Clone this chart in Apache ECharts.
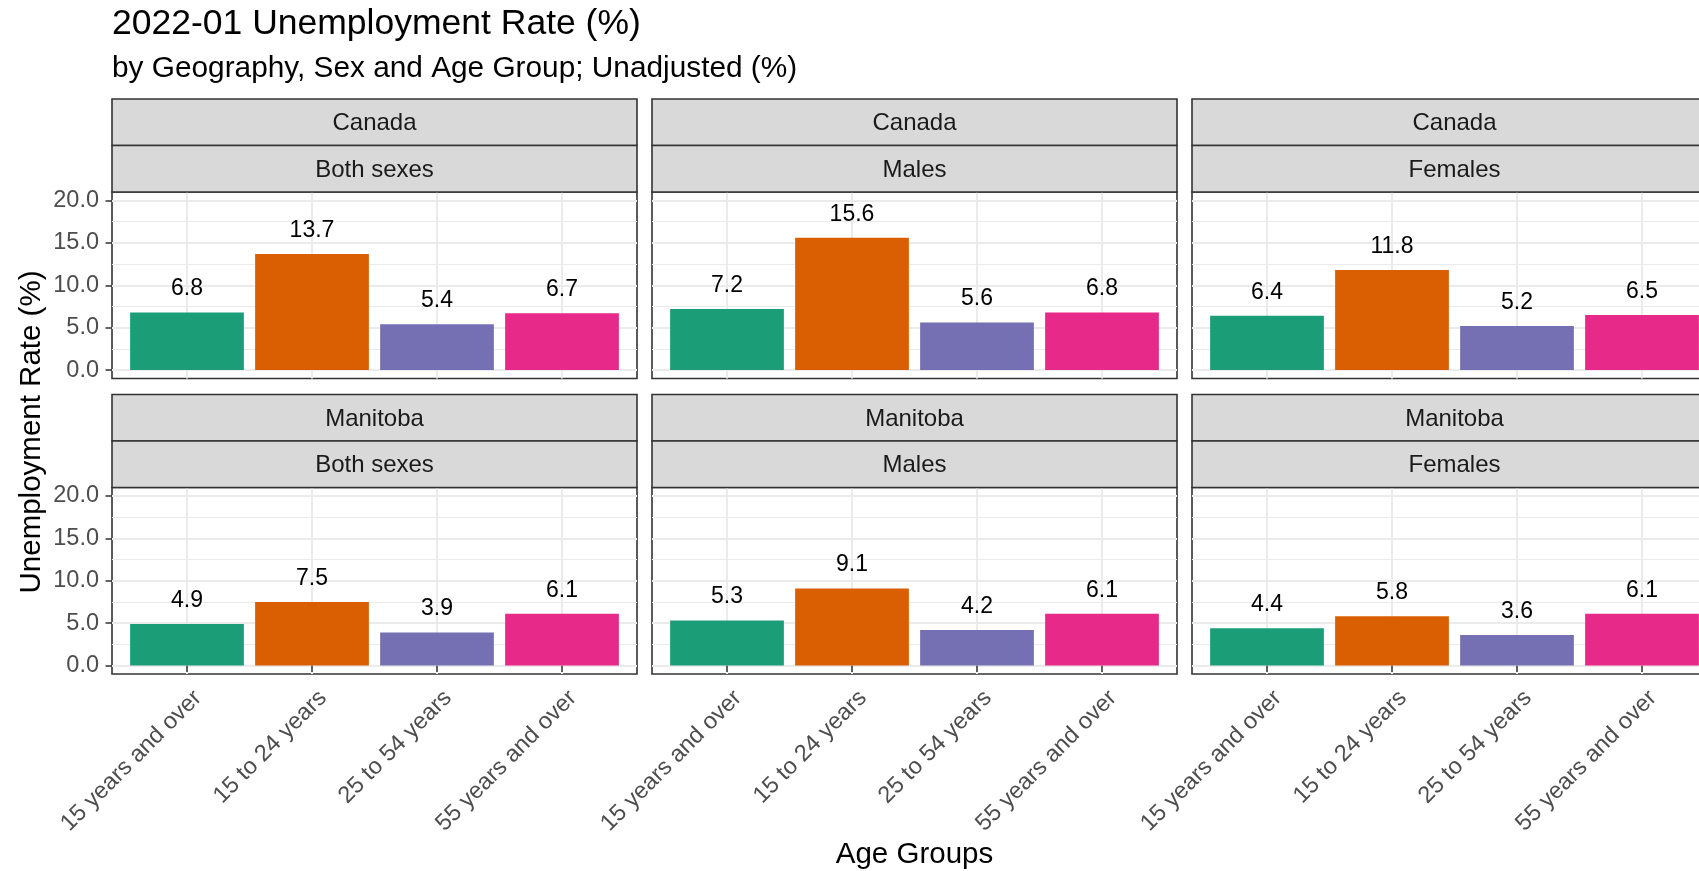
<!DOCTYPE html>
<html>
<head>
<meta charset="utf-8">
<script src="https://cdn.jsdelivr.net/npm/echarts@6/dist/echarts.min.js"></script>
<style>
html,body{margin:0;padding:0;background:#fff;}
#chart{width:1699px;height:871px;}
</style>
</head>
<body>
<div id="chart"></div>
<script>
// ---------------- data ----------------
const ageGroups = ['15 years and over', '15 to 24 years', '25 to 54 years', '55 years and over'];
const geographies = ['Canada', 'Manitoba'];
const sexes = ['Both sexes', 'Males', 'Females'];
const canadaBoth = [6.8, 13.7, 5.4, 6.7];
const canadaMales = [7.2, 15.6, 5.6, 6.8];
const canadaFemales = [6.4, 11.8, 5.2, 6.5];
const manitobaBoth = [4.9, 7.5, 3.9, 6.1];
const manitobaMales = [5.3, 9.1, 4.2, 6.1];
const manitobaFemales = [4.4, 5.8, 3.6, 6.1];
const yTicks = [0, 5, 10, 15, 20];
const yMinorTicks = [2.5, 7.5, 12.5, 17.5];
const xPositions = [1, 2, 3, 4];
const titleText = '2022-01 Unemployment Rate (%)';
const subtitleText = 'by Geography, Sex and Age Group; Unadjusted (%)';
const yTitle = 'Unemployment Rate (%)';
const xTitle = 'Age Groups';

const panelValues = [
  [canadaBoth, canadaMales, canadaFemales],
  [manitobaBoth, manitobaMales, manitobaFemales]
];

// ---------------- style / layout ----------------
const FONT = '"Liberation Sans", Arial, Helvetica, sans-serif';
const barColors = ['#1B9E77', '#D95F02', '#7570B3', '#E7298A'];
const colLeft = [112, 652, 1192];
const panelW = 525;
const stripTop = [99, 394.5];
const stripH = 46.5;
const plotH = 186.5;

const grids = [], xAxes = [], yAxes = [], series = [], graphics = [];

for (let r = 0; r < 2; r++) {
  for (let c = 0; c < 3; c++) {
    const i = r * 3 + c;
    const top = stripTop[r] + 2 * stripH;
    grids.push({
      left: colLeft[c], top: top, width: panelW, height: plotH,
      show: true, borderColor: '#333333', borderWidth: 1.6, backgroundColor: '#ffffff',
      containLabel: false, outerBoundsMode: 'none'
    });
    xAxes.push({
      gridIndex: i, type: 'value', min: 0.4, max: 4.6,
      axisLine: { show: false },
      axisTick: { show: r === 1, customValues: xPositions, length: 6.5,
                  lineStyle: { color: '#333333', width: 1.5 } },
      axisLabel: { show: r === 1, customValues: xPositions,
                   formatter: v => ageGroups[Math.round(v) - 1],
                   rotate: 45, margin: 1, verticalAlign: 'top', padding: [9.5, 6, 0, 0],
                   fontSize: 23.5, color: '#4D4D4D', fontFamily: FONT },
      splitLine: { show: true, lineStyle: { color: '#EBEBEB', width: 2 } }
    });
    yAxes.push({
      gridIndex: i, type: 'value', min: -1, max: 21,
      axisLine: { show: false },
      axisTick: { show: c === 0, customValues: yTicks, length: 6.5,
                  lineStyle: { color: '#333333', width: 1.5 } },
      axisLabel: { show: c === 0, customValues: yTicks, formatter: v => v.toFixed(1),
                   margin: 13, fontSize: 23.5, color: '#4D4D4D', fontFamily: FONT },
      splitLine: { show: true, lineStyle: { color: '#EBEBEB', width: 2 } }
    });
    yAxes.push({
      gridIndex: i, type: 'value', min: -1, max: 21, position: 'left',
      axisLine: { show: false },
      axisTick: { show: false, customValues: yMinorTicks },
      axisLabel: { show: false },
      splitLine: { show: true, lineStyle: { color: '#EBEBEB', width: 1.1 } }
    });
    series.push({
      type: 'bar', xAxisIndex: i, yAxisIndex: 2 * i,
      barWidth: '91%', silent: true, animation: false,
      data: panelValues[r][c].map((v, k) => ({
        value: [xPositions[k], v], itemStyle: { color: barColors[k] }
      })),
      label: { show: true, position: 'top', distance: 12,
               formatter: p => p.value[1].toFixed(1),
               fontSize: 23, color: '#000000', fontFamily: FONT }
    });
    // strips
    const labels = [geographies[r], sexes[c]];
    for (let s = 0; s < 2; s++) {
      const y0 = stripTop[r] + s * stripH;
      graphics.push({
        type: 'rect', silent: true, z: 10,
        shape: { x: colLeft[c], y: y0, width: panelW, height: stripH },
        style: { fill: '#D9D9D9', stroke: '#333333', lineWidth: 1.6 }
      });
      graphics.push({
        type: 'text', silent: true, z: 11,
        x: colLeft[c] + panelW / 2, y: y0 + stripH / 2 + 1.5,
        style: { text: labels[s], fill: '#1A1A1A', font: '24px ' + FONT,
                 align: 'center', verticalAlign: 'middle',
                 textAlign: 'center', textVerticalAlign: 'middle' }
      });
    }
  }
}

// axis titles
graphics.push({
  type: 'text', silent: true, z: 11,
  x: 31.5, y: 432, rotation: Math.PI / 2,
  style: { text: yTitle, fill: '#000000', font: '29.5px ' + FONT,
           align: 'center', verticalAlign: 'middle',
           textAlign: 'center', textVerticalAlign: 'middle' }
});
graphics.push({
  type: 'text', silent: true, z: 11,
  x: 914.5, y: 855,
  style: { text: xTitle, fill: '#000000', font: '29.5px ' + FONT,
           align: 'center', verticalAlign: 'middle',
           textAlign: 'center', textVerticalAlign: 'middle' }
});

const chart = echarts.init(document.getElementById('chart'), null, { renderer: 'canvas' });
chart.setOption({
  animation: false,
  backgroundColor: '#ffffff',
  title: [
    { text: titleText, left: 112, top: 6, padding: 0,
      textStyle: { fontSize: 35.5, fontWeight: 'normal', color: '#000000', fontFamily: FONT } },
    { text: subtitleText, left: 112, top: 54, padding: 0,
      textStyle: { fontSize: 29.8, fontWeight: 'normal', color: '#000000', fontFamily: FONT } }
  ],
  grid: grids,
  xAxis: xAxes,
  yAxis: yAxes,
  series: series,
  graphic: graphics
});
</script>
</body>
</html>
